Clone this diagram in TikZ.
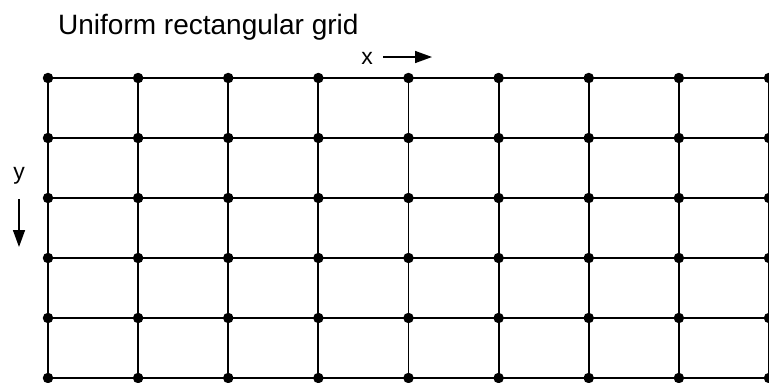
\documentclass[tikz,border=0pt]{standalone}
\usepackage{fontspec}
\setmainfont{Liberation Sans}
\usetikzlibrary{arrows.meta}
\definecolor{GridInk}{HTML}{000000}
\definecolor{Paper}{HTML}{FFFFFF}

\begin{document}
\begin{tikzpicture}[x=1pt,y=-1pt,every node/.style={text=GridInk},gridline/.style={draw=GridInk,line width=1.8pt},gridpt/.style={circle,fill=GridInk,inner sep=0pt,minimum size=10.5pt},axisarrow/.style={-{Triangle[length=17pt,width=12pt]},draw=GridInk,line width=1.5pt}]
\useasboundingbox (0,0) rectangle (769,383);
\fill[Paper] (0,0) rectangle (769,383);
\node[font=\fontsize{28}{32}\selectfont,anchor=base west,inner sep=0pt] (title) at (58,34) {Uniform rectangular grid};
\foreach \i in {0,...,8}{\foreach \j in {0,...,5}{\node[gridpt] (p\i-\j) at ({48+90.125*\i},{78+60*\j}) {};}}
\foreach \j in {0,...,5}{\draw[gridline] (p0-\j.center)--(p8-\j.center);}
\foreach \i in {0,...,8}{\coordinate (b\i) at ({48+90.125*\i},392);\draw[gridline] (p\i-0.center)--(b\i);}
\node[font=\fontsize{23}{27}\selectfont,anchor=base,inner sep=0pt] (xlab) at (367,64) {x};
\coordinate (xtail) at (383,57);
\coordinate (xhead) at (432,57);
\draw[axisarrow] (xtail)--(xhead);
\node[font=\fontsize{23}{27}\selectfont,anchor=base,inner sep=0pt] (ylab) at (19,179) {y};
\coordinate (ytail) at (19,199);
\coordinate (yhead) at (19,247);
\draw[axisarrow] (ytail)--(yhead);
\end{tikzpicture}
\end{document}
